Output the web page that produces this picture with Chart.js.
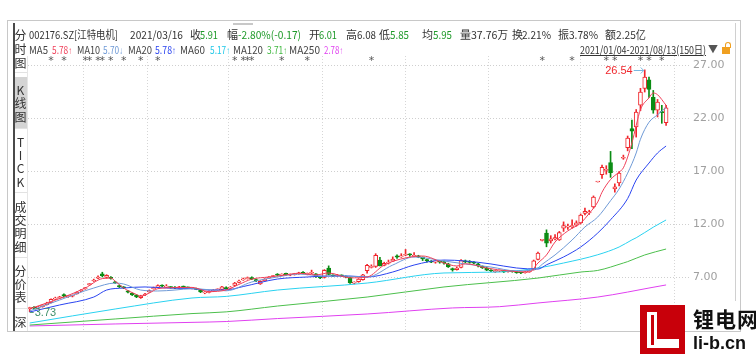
<!DOCTYPE html>
<html><head><meta charset="utf-8">
<script src="https://cdn.jsdelivr.net/npm/chart.js@4/dist/chart.umd.min.js"></script>
<style>
body{margin:0;width:756px;height:354px;background:#fff;overflow:hidden;position:relative;font-family:"Microsoft YaHei","Noto Sans CJK SC","Noto Sans",sans-serif;}
#c{position:absolute;left:0;top:0;}
.a{position:absolute;white-space:nowrap;font-size:11px;line-height:14px;color:#333;transform-origin:left center;}
.ln{position:absolute;}
.sb{position:absolute;left:14px;width:13px;text-align:center;font-size:12px;line-height:14px;color:#333;}
.ar{font-family:"Liberation Sans","DejaVu Sans",sans-serif;font-size:10px;}
</style></head><body>
<canvas id="c" width="756" height="354"></canvas>
<div id="ov"></div>
<script>
// ---- data ----
const monthStarts = [20,35,58,79,97,118,140]; // first trading day of Feb..Aug
const openP = [4.02,4.15,4.05,4.20,4.40,4.58,4.90,5.02,5.35,5.15,
5.18,5.40,5.68,5.88,6.28,6.62,6.90,7.30,6.95,6.98,
6.55,6.20,6.05,5.70,5.45,5.30,5.05,5.30,5.60,5.90,
6.05,6.20,6.05,6.05,6.05,5.98,6.08,6.02,5.92,5.90,
5.80,5.50,5.55,5.68,5.78,5.82,6.01,5.95,6.20,6.50,
6.72,6.85,6.95,6.75,6.35,6.65,6.90,7.05,7.28,7.18,
7.35,7.18,7.22,7.30,7.45,7.25,7.35,7.30,6.95,6.95,
7.85,7.15,7.12,7.15,7.05,6.95,6.42,6.55,6.75,7.60,
7.90,8.00,8.60,8.10,8.30,8.50,9.00,8.90,9.05,9.10,
8.95,9.00,8.85,8.65,8.45,8.40,8.42,8.45,8.25,7.80,
7.70,7.90,8.50,8.45,8.35,8.25,8.00,7.85,7.65,7.50,
7.55,7.60,7.50,7.55,7.48,7.40,7.40,7.50,7.70,8.65,
10.45,11.15,10.40,10.60,10.50,11.60,11.70,11.75,11.90,12.10,
13.00,13.05,13.60,15.96,16.65,17.05,17.80,15.30,15.87,18.20,
19.20,21.00,21.15,23.20,24.80,25.60,23.95,22.75,22.60,21.55];
const closeP = [4.10,4.05,4.18,4.36,4.55,4.90,5.02,5.12,5.18,5.22,
5.24,5.55,5.76,5.96,6.34,6.72,7.00,7.12,7.15,6.86,
6.45,6.08,5.98,5.58,5.32,5.12,5.22,5.36,5.72,5.98,
6.18,6.14,6.12,6.00,5.96,6.08,6.05,5.98,5.95,5.84,
5.60,5.55,5.62,5.75,5.80,6.08,5.91,6.02,6.42,6.62,
6.82,6.92,6.82,6.62,6.60,6.80,7.00,7.10,7.18,7.25,
7.22,7.22,7.30,7.38,7.34,7.30,7.40,7.02,6.92,7.62,
7.25,7.10,7.20,7.10,7.00,6.45,6.48,6.80,7.20,8.10,
8.00,9.05,8.05,8.30,8.40,8.70,8.88,9.00,9.10,9.08,
9.02,8.90,8.70,8.52,8.40,8.42,8.40,8.30,7.95,7.66,
7.85,8.55,8.42,8.38,8.30,8.05,7.88,7.65,7.57,7.55,
7.58,7.47,7.56,7.50,7.40,7.38,7.47,7.60,8.52,9.25,
10.50,10.20,10.60,10.72,11.20,11.85,11.75,11.85,12.10,12.85,
13.20,13.12,14.55,15.96,17.35,17.15,16.85,15.50,16.80,18.25,
20.10,20.75,22.55,24.45,25.85,24.70,22.75,23.50,22.50,22.95];
const highP = [4.15,4.22,4.22,4.42,4.62,4.95,5.10,5.18,5.42,5.28,
5.30,5.60,5.82,6.02,6.40,6.80,7.10,7.45,7.22,7.05,
6.58,6.25,6.10,5.75,5.50,5.35,5.28,5.45,5.78,6.05,
6.25,6.25,6.28,6.10,6.10,6.12,6.15,6.06,6.00,5.95,
5.85,5.62,5.70,5.82,5.88,6.12,6.08,6.10,6.50,6.70,
6.90,7.00,7.02,6.80,6.65,6.85,7.05,7.15,7.32,7.30,
7.38,7.28,7.35,7.45,7.50,7.38,7.65,7.32,7.00,7.70,
8.05,7.20,7.25,7.20,7.10,6.98,6.55,6.85,7.25,8.20,
8.15,9.20,8.85,8.40,8.60,8.90,9.10,9.20,9.60,9.20,
9.30,9.05,8.90,8.70,8.55,8.50,8.52,8.50,8.30,7.85,
7.95,8.65,8.60,8.55,8.45,8.30,8.05,7.90,7.70,7.62,
7.65,7.62,7.60,7.58,7.52,7.45,7.52,7.65,8.60,9.35,
10.55,11.45,10.90,11.00,11.30,12.20,12.00,12.40,12.30,12.95,
13.50,13.30,14.65,15.96,17.55,17.50,18.85,15.80,16.95,18.50,
20.30,21.80,22.80,24.80,26.54,25.85,24.60,23.75,23.20,23.20];
const lowP = [3.73,3.98,4.00,4.15,4.35,4.55,4.85,4.96,5.10,5.08,
5.12,5.38,5.62,5.84,6.20,6.58,6.85,7.00,6.88,6.80,
6.40,6.00,5.90,5.50,5.25,5.05,4.98,5.25,5.55,5.85,
6.00,6.08,6.00,5.95,5.90,5.94,6.00,5.92,5.88,5.80,
5.52,5.42,5.50,5.62,5.72,5.78,5.85,5.90,6.15,6.45,
6.68,6.80,6.75,6.55,6.30,6.60,6.85,7.00,7.10,7.12,
7.15,7.12,7.18,7.25,7.30,7.20,7.32,6.95,6.85,6.90,
7.20,7.02,7.05,7.05,6.92,6.40,6.35,6.50,6.70,7.35,
7.85,7.90,8.05,8.05,8.22,8.45,8.75,8.85,9.00,8.95,
8.90,8.82,8.55,8.40,8.35,8.30,8.30,8.20,7.90,7.55,
7.65,7.85,8.35,8.30,8.25,7.95,7.80,7.60,7.50,7.42,
7.50,7.42,7.45,7.45,7.35,7.32,7.36,7.45,7.65,8.60,
10.40,9.85,10.20,10.50,10.45,11.30,11.50,11.60,11.80,12.00,
12.85,12.90,13.50,15.96,16.30,16.70,16.40,15.00,15.60,18.10,
18.90,19.10,20.20,22.70,24.45,23.95,22.45,22.10,21.50,21.30];
// moving averages: [candle index, value]
const ma5 = [[0,4.00],[4,4.55],[8,5.11],[13,5.96],[17,6.85],[19,6.90],[20,6.62],[22,5.96],[25,5.35],[26,5.20],[28,5.49],[30,5.90],[34,6.00],[38,6.02],[42,5.62],[46,5.78],[49,6.30],[52,6.80],[56,7.00],[60,7.20],[63,7.35],[67,7.20],[70,7.38],[75,6.92],[79,7.00],[83,8.13],[88,8.80],[92,8.98],[97,8.32],[100,8.04],[102,8.25],[107,7.85],[112,7.57],[117,7.47],[119,8.32],[121,9.08],[123,10.30],[126,11.35],[129,12.09],[131,13.00],[133,14.08],[134,15.00],[136,16.20],[138,16.90],[139,17.30],[141,19.64],[142,21.30],[143,22.80],[145,23.90],[146,24.36],[147,24.20],[149,23.20]];
const ma10 = [[0,3.80],[7,4.83],[15,5.96],[20,6.43],[22,6.34],[26,5.77],[30,5.68],[34,5.77],[38,5.90],[42,5.80],[46,5.70],[52,6.53],[58,7.00],[63,7.28],[69,7.09],[73,7.09],[79,7.00],[85,8.13],[90,8.89],[97,8.51],[102,8.23],[108,7.94],[114,7.57],[117,7.62],[119,7.85],[120,8.20],[123,9.08],[127,10.49],[130,11.72],[133,12.66],[136,14.20],[138,15.30],[140,16.80],[142,18.70],[143,20.00],[145,21.60],[147,22.30],[149,23.00]];
const ma20 = [[0,3.70],[7,4.36],[15,5.11],[18,5.77],[22,5.96],[27,6.06],[32,5.96],[38,5.90],[42,5.77],[46,5.78],[50,6.10],[58,6.81],[65,7.00],[70,7.09],[75,7.09],[79,7.00],[85,7.47],[90,8.13],[97,8.60],[102,8.51],[108,8.23],[114,7.85],[119,7.75],[121,8.15],[125,8.89],[129,9.83],[133,11.15],[136,12.40],[140,14.40],[142,16.15],[145,17.75],[147,18.70],[149,19.36]];
const ma60 = [[0,2.66],[20,3.98],[38,5.02],[46,5.17],[58,5.77],[79,6.43],[97,7.38],[110,7.47],[119,7.85],[125,8.32],[133,9.10],[138,9.83],[141,10.50],[142,10.70],[146,11.70],[149,12.38]];
const ma120 = [[0,2.47],[20,3.04],[38,3.55],[46,3.71],[58,4.26],[79,5.11],[97,6.06],[119,6.90],[129,7.47],[133,7.62],[139,8.32],[140,8.45],[144,9.08],[149,9.64]];
const ma250 = [[0,2.38],[20,2.57],[38,2.72],[46,2.80],[58,3.08],[79,3.51],[99,4.08],[110,4.20],[119,4.55],[133,5.11],[140,5.58],[145,5.96],[149,6.25]];
const starIdx = [5,8,13,14,16,17,19,22,26,30,48,50,51,52,59,65,80,120,127,135,137,143,145,148];
const yTicks = [7,12,17,22,27];

// ---- chart ----
const RED='#f0262c', GREEN='#0b8c14';
const N = openP.length;
const idx = [...Array(N).keys()];
const isUp = i => closeP[i] >= openP[i];
const toXY = arr => arr.map(p=>({x:p[0], y:p[1]}));
const maLine = (data,color) => ({type:'line', data:toXY(data), borderColor:color, borderWidth:1, pointRadius:0, cubicInterpolationMode:'monotone', order:0});

const overlay = {
  id:'overlay',
  afterDatasetsDraw(chart){
    const {ctx, scales:{x,y}, chartArea} = chart;
    ctx.save();
    ctx.fillStyle='#555'; ctx.font='11px "DejaVu Sans"'; ctx.textAlign='center'; ctx.textBaseline='middle';
    starIdx.forEach(i=>ctx.fillText('*', x.getPixelForValue(i), chartArea.top+5));
    let iMax=0; highP.forEach((v,i)=>{ if(v>highP[iMax]) iMax=i; });
    const px=x.getPixelForValue(iMax), py=Math.round(y.getPixelForValue(highP[iMax]))+0.5;
    ctx.strokeStyle='#7ab8e0'; ctx.lineWidth=1;
    ctx.beginPath(); ctx.moveTo(px-11,py); ctx.lineTo(px-1,py); ctx.stroke();
    ctx.beginPath(); ctx.moveTo(px-4,py-3); ctx.lineTo(px-1,py); ctx.lineTo(px-4,py+3); ctx.stroke();
    ctx.fillStyle=RED; ctx.font='11px "Liberation Sans"'; ctx.textAlign='right';
    ctx.fillText(highP[iMax].toFixed(2), px-12, py);
    let iMin=0; lowP.forEach((v,i)=>{ if(v<lowP[iMin]) iMin=i; });
    const qx=x.getPixelForValue(iMin), qy=Math.round(y.getPixelForValue(lowP[iMin]))+0.5;
    ctx.strokeStyle='#5a9a7a';
    ctx.beginPath(); ctx.moveTo(qx,qy); ctx.lineTo(qx+4,qy); ctx.stroke();
    ctx.fillStyle='#3f8f6a'; ctx.textAlign='left';
    ctx.fillText(lowP[iMin].toFixed(2), qx+5, qy);
    ctx.restore();
  }
};

new Chart(document.getElementById('c'), {
  data:{datasets:[
    maLine(ma5,'#f0405a'), maLine(ma10,'#6f9ad6'), maLine(ma20,'#2a44f0'),
    maLine(ma60,'#2ad2f0'), maLine(ma120,'#4cbf4c'), maLine(ma250,'#e040f0'),
    {type:'bar', data:idx.map(i=>({x:i,y:[openP[i],closeP[i]]})), grouped:false, barThickness:4, minBarLength:1,
     backgroundColor:idx.map(i=>isUp(i)?'#ffffff':GREEN), borderColor:idx.map(i=>isUp(i)?RED:GREEN), borderWidth:1, borderSkipped:false, order:1},
    {type:'bar', data:idx.map(i=>({x:i,y:[lowP[i],highP[i]]})), grouped:false, barThickness:1,
     backgroundColor:idx.map(i=>isUp(i)?RED:GREEN), borderWidth:0, order:2}
  ]},
  options:{
    responsive:false, animation:false, devicePixelRatio:1,
    layout:{padding:{left:28, top:56, right:26, bottom:24}},
    plugins:{legend:{display:false}, tooltip:{enabled:false}},
    scales:{
      x:{type:'linear', min:-0.4, max:154.6, offset:false,
         afterBuildTicks:s=>{s.ticks=monthStarts.map(v=>({value:v}));},
         afterFit:s=>{s.height=0;},
         ticks:{display:false}, grid:{color:'#d6d6d6', drawTicks:false}, border:{display:false, dash:[1,2]}},
      y:{type:'linear', position:'right', min:2.0, max:27.85,
         afterBuildTicks:s=>{s.ticks=yTicks.map(v=>({value:v}));},
         afterFit:s=>{s.width=40;},
         ticks:{callback:v=>Number(v).toFixed(2), color:'#a0a0a0', font:{size:11, family:'"DejaVu Sans"'}, padding:3},
         grid:{color:'#cfcfcf', drawTicks:false}, border:{display:false, dash:[1,2]}}
    }
  },
  plugins:[overlay]
});

// ---- text overlays ----
const ov = document.getElementById('ov');
const G='#1f9a2a';
function add(html){ ov.insertAdjacentHTML('beforeend', html); return ov.lastElementChild; }
function txt(l,t,s,c,w,extra){
  const el = add(`<div class="a" style="left:${l}px;top:${t}px;color:${c||'#333'};${extra||''}">${s}</div>`);
  if (w) { const m = el.getBoundingClientRect().width; if (m > 0) el.style.transform = `scaleX(${w/m})`; }
  return el;
}
function box(l,t,w,h,bg,extra){ add(`<div class="ln" style="left:${l}px;top:${t}px;width:${w}px;height:${h}px;background:${bg};${extra||''}"></div>`); }

// frame
box(7,20,732,310,'transparent','border:1px solid #c8c8c8;');
box(13,23,2,308,'#4a4a4a');
box(15,77,12,51,'#d4d4d4');
[72,128,192,257,308].forEach(y=>box(15,y,12,1,'#e2e2e2'));
box(27,56,1,275,'#e6e6e6');
box(735,23,1,278,'#d0d0d0');
box(233,23,20,2,'#c8c8c8');
// sidebar
const side = [['分',35],['时',49],['图',63],['K',90],['线',103],['图',117],['T',142],['I',155],['C',168],['K',182],['成',207],['交',220],['明',233],['细',247],['分',271],['价',284],['表',297],['深',322]];
side.forEach(([s,y])=>add(`<div class="sb" style="top:${y-7}px">${s}</div>`));
// header row 1: [left, text, colour, width]
const row1 = [[29,'002176.SZ[江特电机]',null,89],[130,'2021/03/16',null,53],[190,'收'],[200,'5.91',G,18],[227,'幅'],[238,'-2.80%(-0.17)',G,63],[309,'开'],[319,'6.01',G,18],[346,'高'],[357,'6.08',null,19],[379,'低'],[390,'5.85',G,19],[422,'均'],[433,'5.95',G,19],[460,'量'],[471,'37.76万',null,37],[512,'换'],[522,'2.21%',null,29],[558,'振'],[569,'3.78%',null,29],[605,'额'],[616,'2.25亿',null,30]];
row1.forEach(([l,s,c,w])=>txt(l,27,s,c,w));
// header row 2
const row2 = [[29,'MA5','#444',19],[52,'5.78<span class="ar">↑</span>','#f0405a',20],[77,'MA10','#444',23],[103,'5.70<span class="ar">↓</span>','#6f9ad6',20],[128,'MA20','#444',24],[155,'5.78<span class="ar">↑</span>','#2a44f0',21],[180,'MA60','#444',25],[210,'5.17<span class="ar">↑</span>','#22c8e8',20],[233,'MA120','#444',30],[267,'3.71<span class="ar">↑</span>','#3fb83f',20],[289,'MA250','#444',31],[324,'2.78<span class="ar">↑</span>','#e040f0',19]];
row2.forEach(([l,s,c,w])=>txt(l,42,s,c,w));
txt(580,42,'2021/01/04-2021/08/13(150日)','#333',126,'text-decoration:underline;');
txt(708,42,'▼','#555',null,'font-size:10px;');
box(722,47,8,7,'#f0a020');
box(725,42,4,5,'transparent','border:1.5px solid #f0a020;border-bottom:none;border-radius:3px 3px 0 0;');
// watermark
box(640,305,45,49,'#c8000a');
box(647,312,10,36,'#ffffff');
box(647,339,32,9,'#ffffff');
box(651,315,3,30,'#c8000a');
add('<div class="a" style="left:693px;top:305px;font-size:21px;line-height:26px;font-weight:bold;color:#111;letter-spacing:1px;">锂电网</div>');
add('<div class="a" style="left:693px;top:332px;font-size:18px;line-height:22px;font-weight:bold;color:#111;font-family:\'Liberation Sans\',sans-serif;">li-b.cn</div>');
</script>
</body></html>
